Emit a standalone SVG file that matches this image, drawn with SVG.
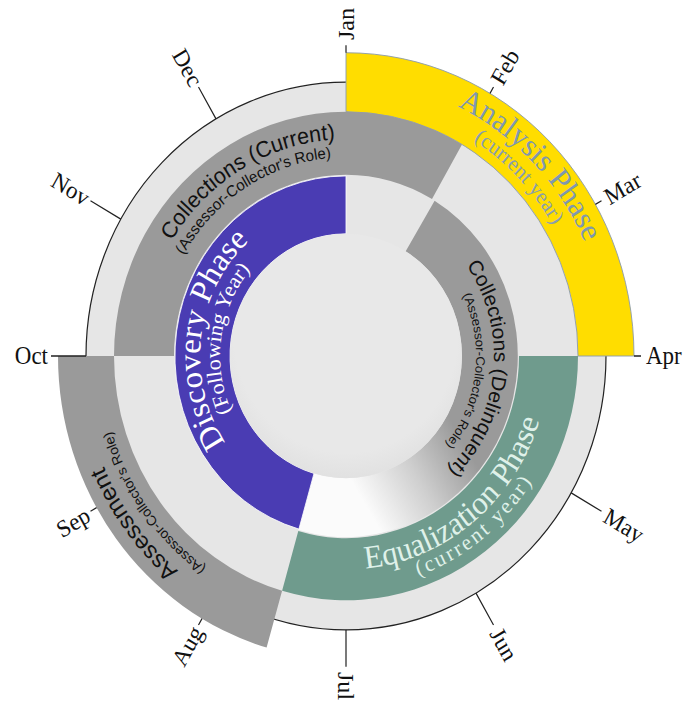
<svg xmlns="http://www.w3.org/2000/svg" width="686" height="704" viewBox="0 0 686 704">
<defs>
<style>
.lg{fill:#e6e6e6}
.dg{fill:#9a9a9a}
.tick{stroke:#222;stroke-width:1.2;fill:none}
.mon{font-family:"Liberation Serif",serif;font-size:23px;fill:#111}
.sans{font-family:"Liberation Sans",Arial,sans-serif;fill:#111}
.serif{font-family:"Liberation Serif",serif}
</style>
<linearGradient id="delq" gradientUnits="userSpaceOnUse" x1="118.0" y1="82.6" x2="20.0" y2="142.6">
<stop offset="0" stop-color="#9a9a9a"/>
<stop offset="0.5" stop-color="#cfcfcf"/>
<stop offset="1" stop-color="#fbfbfb"/>
</linearGradient>
<radialGradient id="disk" cx="0" cy="-20" r="140" gradientUnits="userSpaceOnUse">
<stop offset="0.8" stop-color="#e8e8e8"/>
<stop offset="1" stop-color="#e0e0e0"/>
</radialGradient>
<path id="pAnalysis" d="M -166.7 -202.2 A 262 262 0 0 1 199.2 170.1"/>
<path id="pAnalysis2" d="M -153.3 -186.0 A 241 241 0 0 1 183.3 156.5"/>
<path id="pCur" d="M -185.9 88.7 A 206 206 0 0 1 167.7 -119.6"/>
<path id="pCur2" d="M -168.4 85.8 A 189 189 0 0 1 150.9 -113.7"/>
<path id="pDisc" d="M -30.4 142.8 A 146 146 0 0 1 5.1 -145.9"/>
<path id="pDisc2" d="M -28.3 122.8 A 126 126 0 0 1 6.6 -125.8"/>
<path id="pDel" d="M 27.0 -145.5 A 148 148 0 0 1 -1.3 148.0"/>
<path id="pDel2" d="M 27.0 -127.2 A 130 130 0 0 1 -4.5 129.9"/>
<path id="pEq" d="M -146.0 141.0 A 203 203 0 0 0 168.3 -113.5"/>
<path id="pEq2" d="M -160.3 152.1 A 221 221 0 0 0 184.3 -122.0"/>
<path id="pAss" d="M 139.9 223.9 A 264 264 0 0 1 -176.6 -196.2"/>
<path id="pAss2" d="M 126.2 210.0 A 245 245 0 0 1 -160.7 -184.9"/>
</defs>
<rect width="686" height="704" fill="#ffffff"/>
<g transform="translate(346,356) scale(1,1.053)">
  <g id="background">
    <circle class="lg" r="260" stroke="#222" stroke-width="1.2"/>
  </g>
  <g id="analysis-phase">
    <path d="M 0 -288 A 288 288 0 0 1 288 0 L 232 0 A 232 232 0 0 0 0 -232 Z" fill="#ffdd00" stroke="#8d9cab" stroke-width="0.9"/>
    <text class="serif" font-size="30.5" fill="#7f98b0"><textPath href="#pAnalysis" startOffset="50%" text-anchor="middle">Analysis Phase</textPath></text>
    <text class="serif" font-size="21" fill="#8a9db0"><textPath href="#pAnalysis2" startOffset="50%" text-anchor="middle">(current year)</textPath></text>
  </g>
  <g id="assessment">
    <path class="dg" d="M -79.4 276.9 A 288 288 0 0 1 -288 0 L -232 0 A 232 232 0 0 0 -63.9 223.0 Z"/>
    <text class="sans" font-size="23"><textPath href="#pAss" startOffset="50%" text-anchor="middle">Assessment</textPath></text>
    <text class="sans" font-size="13.5"><textPath href="#pAss2" startOffset="50%" text-anchor="middle">(Assessor-Collector's Role)</textPath></text>
  </g>
  <g id="collections-current">
    <path class="dg" d="M -232 0 A 232 232 0 0 1 116 -200.9 L 86 -149.0 A 172 172 0 0 0 -172 0 Z"/>
    <text class="sans" font-size="21.5"><textPath href="#pCur" startOffset="50%" text-anchor="middle">Collections (Current)</textPath></text>
    <text class="sans" font-size="15"><textPath href="#pCur2" startOffset="50%" text-anchor="middle">(Assessor-Collector's Role)</textPath></text>
  </g>
  <g id="equalization-phase">
    <path d="M 232 0 A 232 232 0 0 1 -63.9 223.0 L -47.7 166.3 A 173 173 0 0 0 173 0 Z" fill="#6f9b8d"/>
    <text class="serif" font-size="31" fill="#dff1e9"><textPath href="#pEq" startOffset="50%" text-anchor="middle">Equalization Phase</textPath></text>
    <text class="serif" font-size="21" fill="#dff1e9" letter-spacing="2.5"><textPath href="#pEq2" startOffset="50%" text-anchor="middle">(current year)</textPath></text>
  </g>
  <g id="collections-delinquent">
    <path d="M 88.6 -147.4 A 172 172 0 0 1 -47.4 165.3 L -32.0 111.5 A 116 116 0 0 0 59.7 -99.4 Z" fill="url(#delq)"/>
    <text class="sans" font-size="20"><textPath href="#pDel" startOffset="50%" text-anchor="middle">Collections (Delinquent)</textPath></text>
    <text class="sans" font-size="12.5"><textPath href="#pDel2" startOffset="50%" text-anchor="middle">(Assessor-Collector's Role)</textPath></text>
  </g>
  <g id="discovery-phase">
    <path d="M -47.1 164.4 A 171 171 0 0 1 0 -171 L 0 -116 A 116 116 0 0 0 -32.0 111.5 Z" fill="#4a3cb3" stroke="#ffffff" stroke-width="0.8"/>
    <text class="serif" font-size="31.5" fill="#ffffff"><textPath href="#pDisc" startOffset="50%" text-anchor="middle">Discovery Phase</textPath></text>
    <text class="serif" font-size="21" fill="#ffffff"><textPath href="#pDisc2" startOffset="50%" text-anchor="middle">(Following Year)</textPath></text>
  </g>
  <g id="center">
    <circle r="116" fill="url(#disk)"/>
  </g>
  <g id="month-ticks">
    <path class="tick" d="M 0 -288 L 0 -295 M 144 -249.4 L 147.5 -255.5 M 249.4 -144 L 255.5 -147.5 M 288 0 L 295 0 M 225.2 130 L 255.5 147.5 M 130 225.2 L 147.5 255.5 M 0 260 L 0 295 M -144 249.4 L -147.5 255.5 M -249.4 144 L -255.5 147.5 M -260 0 L -295 0 M -225.2 -130 L -255.5 -147.5 M -130 -225.2 L -147.5 -255.5"/>
  </g>
  <g id="month-labels">
    <text class="mon" dy="0.35em" transform="rotate(0) translate(0,-300) rotate(-90)">Jan</text>
    <text class="mon" dy="0.35em" transform="rotate(30) translate(0,-300) rotate(-90)">Feb</text>
    <text class="mon" dy="0.35em" transform="rotate(60) translate(0,-300) rotate(-90)">Mar</text>
    <text class="mon" dy="0.35em" transform="rotate(90) translate(0,-300) rotate(-90)">Apr</text>
    <text class="mon" dy="0.35em" transform="rotate(120) translate(0,-300) rotate(-90)">May</text>
    <text class="mon" dy="0.35em" transform="rotate(150) translate(0,-300) rotate(-90)">Jun</text>
    <text class="mon" dy="0.35em" transform="rotate(180) translate(0,-300) rotate(-90)">Jul</text>
    <text class="mon" dy="0.35em" text-anchor="end" transform="rotate(210) translate(0,-298) rotate(90)">Aug</text>
    <text class="mon" dy="0.35em" text-anchor="end" transform="rotate(240) translate(0,-298) rotate(90)">Sep</text>
    <text class="mon" dy="0.35em" text-anchor="end" transform="rotate(270) translate(0,-298) rotate(90)">Oct</text>
    <text class="mon" dy="0.35em" text-anchor="end" transform="rotate(300) translate(0,-298) rotate(90)">Nov</text>
    <text class="mon" dy="0.35em" text-anchor="end" transform="rotate(330) translate(0,-298) rotate(90)">Dec</text>
  </g>
</g>
</svg>
